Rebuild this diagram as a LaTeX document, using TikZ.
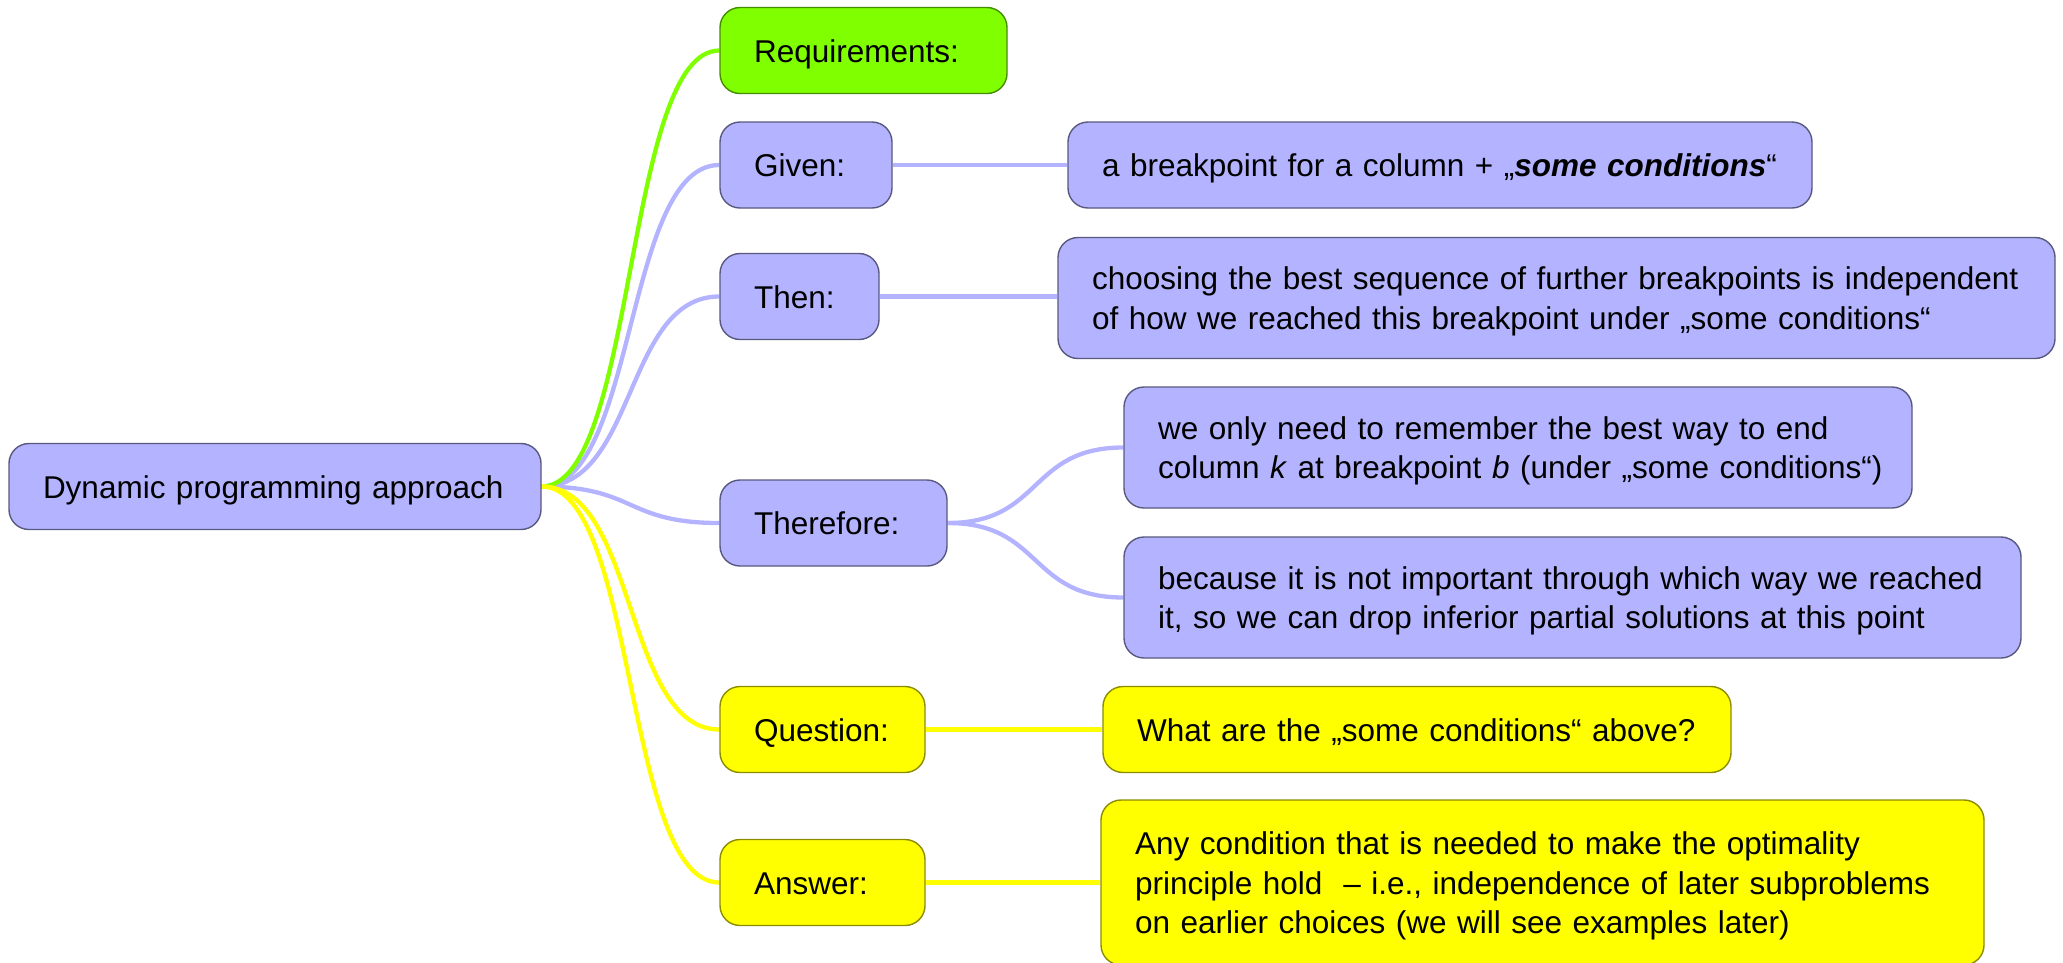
\documentclass[tikz,border=0pt]{standalone}
\usepackage{fontspec}
\setmainfont{Liberation Sans}
\usetikzlibrary{backgrounds}
\definecolor{nblue}{RGB}{179,179,255}
\definecolor{ngreen}{RGB}{128,255,0}
\definecolor{nyellow}{RGB}{255,255,0}
\tikzset{
  box/.style={rectangle, rounded corners=20pt, line width=1.4pt, inner xsep=34pt, inner ysep=0pt,
    align=left, font={\fontsize{31.5}{39.5}\selectfont\hyphenpenalty=10000\exhyphenpenalty=10000}},
  bluebox/.style={box, fill=nblue, draw=nblue!50!black},
  greenbox/.style={box, fill=ngreen, draw=ngreen!55!black},
  yellowbox/.style={box, fill=nyellow, draw=nyellow!55!black},
  oneline/.style={text height=23pt, text depth=0pt, minimum height=86pt},
  twolines/.style={text height=23pt, text depth=39.5pt, minimum height=121pt},
  threelines/.style={text height=23pt, text depth=79pt, minimum height=165pt},
  eblue/.style={draw=nblue, line width=4.3pt},
  egreen/.style={draw=ngreen, line width=4.3pt},
  eyellow/.style={draw=nyellow, line width=4.3pt},
}
\begin{document}
\begin{tikzpicture}[x=1pt, y=-1pt]
\useasboundingbox (0,0) rectangle (2063,962);

\node[bluebox, oneline, text width=464pt] (root) at (275,486.5) {\mbox{Dynamic programming approach}};

\node[greenbox, oneline, text width=219pt] (req) at (863.5,50.5) {Requirements:};

\node[bluebox, oneline, text width=104pt] (given) at (806,165) {Given:};
\node[bluebox, oneline, text width=676pt] (givenC) at (1440,165)
  {\mbox{a breakpoint for a column + „\textbf{\textit{some conditions}}“}};

\node[bluebox, oneline, text width=91pt] (then) at (799.5,296.5) {Then:};
\node[bluebox, twolines, text width=929pt] (thenC) at (1556.5,298)
  {\mbox{choosing the best sequence of further breakpoints is independent}\\\mbox{of how we reached this breakpoint under „some conditions“}};

\node[bluebox, oneline, text width=159pt] (there) at (833.5,523) {Therefore:};
\node[bluebox, twolines, text width=720pt] (tA) at (1518,447.5)
  {\mbox{we only need to remember the best way to end}\\\mbox{column \textit{k} at breakpoint \textit{b} (under „some conditions“)}};
\node[bluebox, twolines, text width=829pt] (tB) at (1572.5,597.5)
  {\mbox{because it is not important through which way we reached}\\\mbox{it, so we can drop inferior partial solutions at this point}};

\node[yellowbox, oneline, text width=137pt] (quest) at (822.5,729.5) {\mbox{Question:}};
\node[yellowbox, oneline, text width=560pt] (questC) at (1417,729.5)
  {\mbox{What are the „some conditions“ above?}};

\node[yellowbox, oneline, text width=137pt] (ans) at (822.5,882.5) {Answer:};
\node[yellowbox, threelines, text width=815pt] (ansC) at (1542.5,882.5)
  {\mbox{Any condition that is needed to make the optimality}\\\mbox{principle hold \ – i.e., independence of later subproblems}\\\mbox{on earlier choices (we will see examples later)}};

\begin{scope}[on background layer]
  \draw[eblue] (root.east) .. controls +(95,0) and +(-95,0) .. (given.west);
  \draw[eblue] (root.east) .. controls +(95,0) and +(-95,0) .. (then.west);
  \draw[eblue] (root.east) .. controls +(95,0) and +(-95,0) .. (there.west);
  \draw[egreen] (root.east) .. controls +(95,0) and +(-95,0) .. (req.west);
  \draw[eyellow] (root.east) .. controls +(95,0) and +(-95,0) .. (quest.west);
  \draw[eyellow] (root.east) .. controls +(95,0) and +(-95,0) .. (ans.west);
  \draw[eblue] (given.east) -- (givenC.west);
  \draw[eblue] (then.east) -- (then.east -| thenC.west);
  \draw[eblue] (there.east) .. controls +(95,0) and +(-95,0) .. (tA.west);
  \draw[eblue] (there.east) .. controls +(95,0) and +(-95,0) .. (tB.west);
  \draw[eyellow] (quest.east) -- (questC.west);
  \draw[eyellow] (ans.east) -- (ansC.west);
\end{scope}
\end{tikzpicture}
\end{document}
